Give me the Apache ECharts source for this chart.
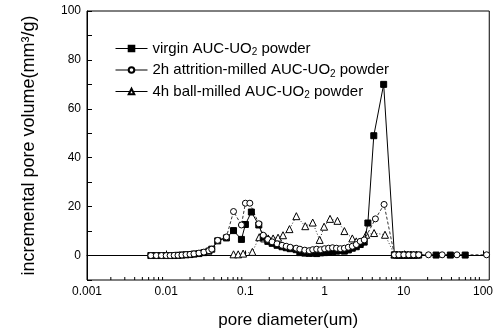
<!DOCTYPE html>
<html><head><meta charset="utf-8">
<script src="https://cdn.jsdelivr.net/npm/echarts@6/dist/echarts.min.js"></script>
<style>html,body{margin:0;padding:0;background:#fff}#c{width:496px;height:334px}</style>
</head><body><div id="c"></div>
<script>
// pore diameter (um) and incremental pore volume (mm3/g)
const virginX = [0.0064,0.0075,0.0087,0.01,0.0112,0.0126,0.0141,0.0158,0.0178,0.02,0.0224,0.0259,0.0299,0.0346,0.0376,0.0447,0.0576,0.0708,0.0891,0.1,0.1189,0.1476,0.168,0.192,0.2175,0.251,0.29,0.328,0.368,0.438,0.487,0.562,0.64,0.708,0.794,0.891,1.0,1.122,1.259,1.413,1.585,1.778,1.995,2.239,2.512,2.818,3.162,3.52,4.18,5.57,7.61,8.66,10.0,11.55,13.3,15.4,25.6,38.7,59.6];
const virginY = [0,0,0,0,0,0,0.1,0.2,0.3,0.4,0.6,0.8,1.2,1.8,2.6,6,7.2,10.2,6.6,12.7,17.8,12.5,7.5,5.8,5.0,4.2,3.6,3.2,2.8,2.4,1.2,1.0,0.9,1.0,0.8,1.1,1.2,1.4,1.6,1.8,2.0,1.8,2.3,3.0,3.6,4.5,5.5,13.3,49,70,0.3,0.2,0.2,0.2,0.2,0.2,0.2,0.2,0.2];
const attrX = [0.0064,0.0075,0.0087,0.01,0.0112,0.0126,0.0141,0.0158,0.0178,0.02,0.0224,0.0259,0.0299,0.0346,0.0376,0.0447,0.0576,0.0708,0.0891,0.1,0.1138,0.1476,0.168,0.192,0.2175,0.251,0.29,0.328,0.368,0.438,0.487,0.562,0.64,0.708,0.794,0.891,1.0,1.122,1.259,1.413,1.585,1.778,1.995,2.239,2.512,2.818,3.162,4.38,5.64,7.61,8.66,10.0,11.55,13.3,15.4,20.5,30.5,46.9,111];
const attrY = [0,0,0,0,0,0.1,0.1,0.2,0.4,0.5,0.7,1.0,1.4,2.0,2.6,6.2,7.6,18,12.5,21.4,21.4,13,8.3,6.6,5.6,4.8,4.2,3.8,3.4,3.0,2.6,2.2,2.0,2.4,2.6,2.4,2.8,3.0,3.2,3.0,2.8,3.0,3.4,3.8,4.5,5.8,6.4,15,20.9,0.3,0.3,0.3,0.3,0.3,0.3,0.3,0.3,0.3,0.3];
const ballX = [0.0708,0.0811,0.0936,0.1224,0.1496,0.1729,0.194,0.2239,0.2585,0.2985,0.36,0.44,0.57,0.708,0.866,0.986,1.172,1.454,1.778,2.239,2.512,2.818,3.35,4.217,5.79,7.61,8.2,8.9,9.6,10.4,11.3,12.3,13.3,14.5];
const ballY = [0.5,0.5,0.8,1.5,7.5,7.0,7.0,7.0,7.3,8.3,10.8,16.1,12.0,13.5,6.4,11.8,15.0,14.2,10.0,7.0,5.8,5.6,8.5,9.2,8.5,0.4,0.4,0.4,0.4,0.4,0.4,0.4,0.4,0.4];
const seriesNames = ['virgin AUC-UO2 powder','2h attrition-milled AUC-UO2 powder','4h ball-milled AUC-UO2 powder'];
const legendParts = [['virgin AUC-UO',' powder'],['2h attrition-milled AUC-UO',' powder'],['4h ball-milled AUC-UO',' powder']];
const xMajor = [0.001,0.01,0.1,1,10,100];
const minorMult = [2,3,4,5,6,7,8,9];
const yLabels = [0,20,40,60,80,100];

const xMinor = [];
xMajor.forEach(d => minorMult.forEach(m => { const v = +(d*m).toPrecision(3); if (v < 120) xMinor.push([v, -10]); }));
const zip = (a,b) => a.map((v,i)=>[v,b[i]]);
const font = 'Liberation Sans, Arial, sans-serif';

const chart = echarts.init(document.getElementById('c'), null, {renderer:'canvas'});
chart.setOption({
  animation:false,
  backgroundColor:'#fff',
  grid:{left:87,right:2,top:11,bottom:52,show:true,borderColor:'#000',borderWidth:1,backgroundColor:'transparent'},
  legend:{
    data:seriesNames, orient:'vertical', left:110, top:36, itemWidth:32, itemHeight:7, itemGap:5,
    lineStyle:{type:'solid',width:1},
    formatter:(name)=>{const i=seriesNames.indexOf(name);return '{n|'+legendParts[i][0]+'}{s|2}{n|'+legendParts[i][1]+'}';},
    textStyle:{color:'#000',fontFamily:font,rich:{n:{fontSize:15,lineHeight:18,fontFamily:font,color:'#000'},s:{fontSize:10,lineHeight:8,verticalAlign:'bottom',fontFamily:font,color:'#000'}}}
  },
  xAxis:{
    type:'log', logBase:10, min:0.001, max:120,
    name:'pore diameter(um)', nameLocation:'middle', nameGap:32,
    nameTextStyle:{fontSize:17,fontFamily:font,color:'#000'},
    axisLine:{lineStyle:{color:'#000',width:1}},
    axisTick:{inside:true,length:5,lineStyle:{color:'#000'}},
    splitLine:{show:false},
    axisLabel:{color:'#000',fontSize:12,fontFamily:font,margin:6,showMaxLabel:false,
      formatter:(v)=>{const l=Math.log10(v);return Math.abs(l-Math.round(l))<1e-6?String(v):'';}}
  },
  yAxis:[{
    type:'value', min:-10, max:100, interval:10,
    name:'incremental pore volume(mm³/g)', nameLocation:'middle', nameGap:49,
    nameTextStyle:{fontSize:18,fontFamily:font,color:'#000'},
    axisLine:{show:true,lineStyle:{color:'#000',width:1}},
    axisTick:{inside:true,length:5,lineStyle:{color:'#000'},interval:(i,v)=>yLabels.indexOf(+v)>=0},
    splitLine:{show:false},
    axisLabel:{color:'#000',fontSize:12,fontFamily:font,margin:6,formatter:(v)=>yLabels.indexOf(v)>=0?String(v):''}
  },{
    type:'value', min:-10, max:100, interval:10, position:'left',
    axisLine:{show:false}, axisLabel:{show:false}, splitLine:{show:false},
    axisTick:{inside:true,length:3,lineStyle:{color:'#000'},interval:(i,v)=>yLabels.indexOf(+v)<0}
  }],
  series:[
    {name:seriesNames[0],type:'line',data:zip(virginX,virginY),symbol:'rect',symbolSize:6,
     lineStyle:{color:'#000',width:1},itemStyle:{color:'#000',borderColor:'#000',borderWidth:1},z:3},
    {name:seriesNames[1],type:'line',data:zip(attrX,attrY),symbol:'circle',symbolSize:6,
     lineStyle:{color:'#000',width:0.8,type:[3,2]},itemStyle:{color:'#fff',borderColor:'#000',borderWidth:1},z:4},
    {name:seriesNames[2],type:'line',data:zip(ballX,ballY),symbol:'triangle',symbolSize:7,
     lineStyle:{color:'#000',width:0.8,type:[1,2]},itemStyle:{color:'#fff',borderColor:'#000',borderWidth:1},z:2},
    {type:'custom',data:xMinor,silent:true,clip:false,z:5,
     renderItem:(params,api)=>{const p=api.coord([api.value(0),api.value(1)]);
       return {type:'line',shape:{x1:p[0],y1:p[1],x2:p[0],y2:p[1]-3},style:{stroke:'#000',lineWidth:1}};}}
  ]
});
</script></body></html>
